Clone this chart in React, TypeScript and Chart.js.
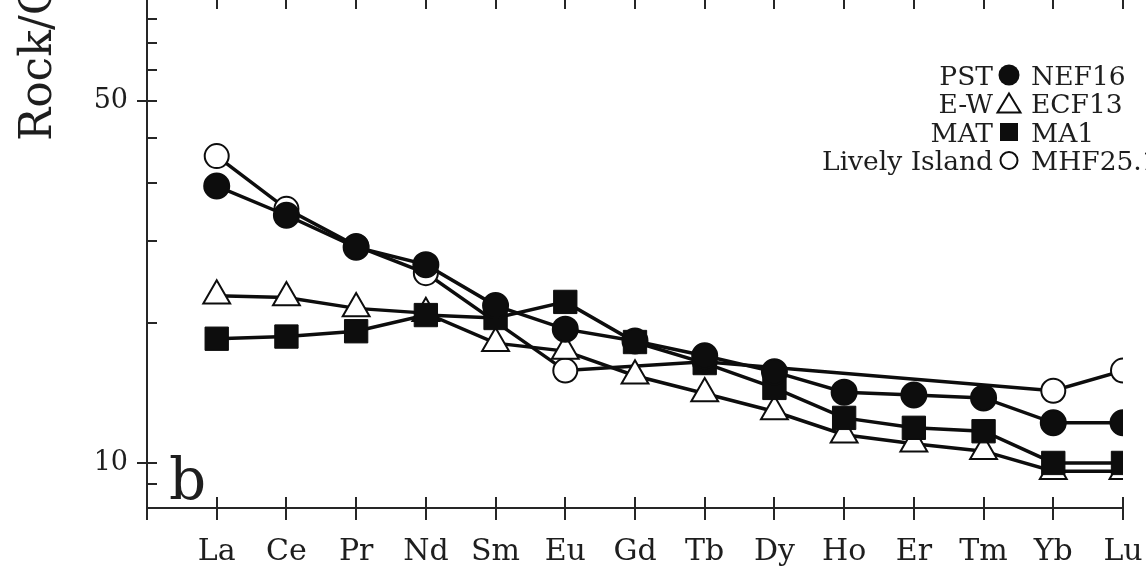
import React, { useEffect, useRef } from "react";
import { Chart, registerables } from "chart.js";

Chart.register(...registerables);

// Rare earth elements along the x axis
const elements = ["La", "Ce", "Pr", "Nd", "Sm", "Eu", "Gd", "Tb", "Dy", "Ho", "Er", "Tm", "Yb", "Lu"];

// Chondrite-normalised concentrations per sample
const nef16 = [39.4, 34.1, 29.1, 26.7, 21.8, 19.4, 18.3, 17.0, 15.7, 14.2, 14.0, 13.8, 12.2, 12.2];
const ecf13 = [22.9, 22.7, 21.5, 21.0, 18.1, 17.4, 15.4, 14.1, 12.9, 11.5, 11.0, 10.6, 9.6, 9.6];
const ma1 = [18.5, 18.7, 19.2, 20.8, 20.5, 22.2, 18.2, 16.4, 14.5, 12.5, 11.9, 11.7, 10.0, 10.0];
const mhf251: (number | null)[] = [45.7, 35.2, 29.3, 25.6, null, 15.8, null, 16.5, null, null, null, null, 14.3, 15.8];

// Legend rows: suite name and sample name
const groups = ["PST", "E-W", "MAT", "Lively Island"];
const samples = ["NEF16", "ECF13", "MA1", "MHF25.1"];

// Log axis range and tick marks
const yMin = 8;
const yMax = 100;
const yMinorTicks = [9, 20, 30, 40, 50, 70, 80, 90];
const yLabelTicks = [10, 60];
const yTickLabels = ["10", "50"];

const yTitle = "Rock/Chondrite";
const panelLetter = "b";

const SERIF = "'DejaVu Serif', 'Liberation Serif', serif";
const INK = "#0d0d0d";
const AXIS = "#262626";
const TEXT = "#1e1e1e";

const toPoints = (vals: (number | null)[]) => vals.map((v, i) => ({ x: i, y: v }));

type Shape = "disc" | "triangle" | "square" | "ring";
const legendShapes: Shape[] = ["disc", "triangle", "square", "ring"];

function drawLegendSymbol(ctx: CanvasRenderingContext2D, shape: Shape, cx: number, cy: number) {
  ctx.save();
  ctx.lineWidth = 2;
  ctx.strokeStyle = INK;
  ctx.fillStyle = INK;
  ctx.beginPath();
  if (shape === "disc") {
    ctx.arc(cx, cy, 10.5, 0, Math.PI * 2);
    ctx.fill();
  } else if (shape === "ring") {
    ctx.arc(cx, cy, 8.5, 0, Math.PI * 2);
    ctx.fillStyle = "#fff";
    ctx.fill();
    ctx.stroke();
  } else if (shape === "square") {
    ctx.rect(cx - 9, cy - 9, 18, 18);
    ctx.fill();
  } else {
    ctx.moveTo(cx, cy - 10);
    ctx.lineTo(cx + 11.5, cy + 9);
    ctx.lineTo(cx - 11.5, cy + 9);
    ctx.closePath();
    ctx.fillStyle = "#fff";
    ctx.fill();
    ctx.stroke();
  }
  ctx.restore();
}

const framePlugin = {
  id: "frame",
  beforeDatasetsDraw(chart: any) {
    const { ctx, chartArea } = chart;
    const { left, right, top, bottom } = chartArea;
    const xs = chart.scales.x;
    const ys = chart.scales.y;
    ctx.save();
    ctx.strokeStyle = AXIS;
    ctx.lineWidth = 2;
    ctx.beginPath();
    // spines
    ctx.moveTo(left, top);
    ctx.lineTo(left, bottom + 12);
    ctx.moveTo(left, bottom);
    ctx.lineTo(right, bottom);
    ctx.moveTo(left, top);
    ctx.lineTo(right, top);
    // element ticks, bottom and top
    elements.forEach((_, i) => {
      const px = Math.round(xs.getPixelForValue(i));
      ctx.moveTo(px, bottom - 11);
      ctx.lineTo(px, bottom + 12);
      ctx.moveTo(px, top);
      ctx.lineTo(px, top + 11);
    });
    // minor ticks inside, labelled ticks across the spine
    yMinorTicks.forEach((v) => {
      const py = Math.round(ys.getPixelForValue(v));
      ctx.moveTo(left, py);
      ctx.lineTo(left + 10, py);
    });
    yLabelTicks.forEach((v) => {
      const py = Math.round(ys.getPixelForValue(v));
      ctx.moveTo(left - 10, py);
      ctx.lineTo(left + 10, py);
    });
    ctx.stroke();
    ctx.restore();
  },
  afterDraw(chart: any) {
    const { ctx, chartArea } = chart;
    const { left, right, top, bottom } = chartArea;
    ctx.save();
    ctx.fillStyle = TEXT;

    // rotated axis title
    ctx.save();
    ctx.translate(left - 96, top + 143);
    ctx.rotate(-Math.PI / 2);
    ctx.font = `44px ${SERIF}`;
    ctx.textAlign = "left";
    ctx.textBaseline = "alphabetic";
    ctx.fillText(yTitle, 0, 0);
    ctx.restore();

    // panel letter
    ctx.font = `58px ${SERIF}`;
    ctx.textAlign = "left";
    ctx.textBaseline = "alphabetic";
    ctx.fillText(panelLetter, left + 22, bottom - 9);

    // legend
    const symX = right - 114;
    ctx.font = `26.5px ${SERIF}`;
    groups.forEach((g, i) => {
      const cy = top + 77 + i * 28.5;
      const base = cy + 9.5;
      ctx.textAlign = "right";
      ctx.fillText(g, symX - 16, base);
      ctx.textAlign = "left";
      ctx.fillText(samples[i], symX + 22, base);
      drawLegendSymbol(ctx, legendShapes[i], symX, cy);
    });
    ctx.restore();
  },
};

export default function App() {
  const canvasRef = useRef<HTMLCanvasElement | null>(null);

  useEffect(() => {
    const canvas = canvasRef.current;
    if (!canvas) return;
    const line = { borderColor: INK, borderWidth: 3.5, spanGaps: true, tension: 0 };
    const chart = new Chart(canvas, {
      type: "line",
      data: {
        datasets: [
          {
            ...line,
            label: samples[0],
            data: toPoints(nef16),
            pointStyle: "circle",
            pointRadius: 12.5,
            pointBorderWidth: 2,
            pointBackgroundColor: INK,
            pointBorderColor: INK,
            order: 0,
          },
          {
            ...line,
            label: samples[1],
            data: toPoints(ecf13),
            pointStyle: "triangle",
            pointRadius: 15.5,
            pointBorderWidth: 2,
            pointBackgroundColor: "#ffffff",
            pointBorderColor: INK,
            order: 2,
          },
          {
            ...line,
            label: samples[2],
            data: toPoints(ma1),
            pointStyle: "rect",
            pointRadius: 16.5,
            pointBorderWidth: 1,
            pointBackgroundColor: INK,
            pointBorderColor: INK,
            order: 1,
          },
          {
            ...line,
            label: samples[3],
            data: toPoints(mhf251),
            pointStyle: "circle",
            pointRadius: 12,
            pointBorderWidth: 2,
            pointBackgroundColor: "#ffffff",
            pointBorderColor: INK,
            order: 3,
          },
        ] as any,
      },
      options: {
        animation: false,
        responsive: false,
        maintainAspectRatio: false,
        devicePixelRatio: 1,
        layout: { padding: { top: 38, right: 177, left: 0, bottom: 0 } },
        plugins: { legend: { display: false }, tooltip: { enabled: false } },
        scales: {
          x: {
            type: "linear",
            min: -1,
            max: elements.length - 1,
            grid: { display: false, drawTicks: false },
            border: { display: false },
            afterBuildTicks: (s: any) => {
              s.ticks = elements.map((_, i) => ({ value: i }));
            },
            afterFit: (s: any) => {
              s.height = 73;
            },
            ticks: {
              autoSkip: false,
              maxRotation: 0,
              padding: 26,
              color: TEXT,
              font: { family: SERIF, size: 30 },
              callback: (v: any) => elements[v as number] ?? "",
            },
          },
          y: {
            type: "logarithmic",
            min: yMin,
            max: yMax,
            grid: { display: false, drawTicks: false },
            border: { display: false },
            afterBuildTicks: (s: any) => {
              s.ticks = yLabelTicks.map((v) => ({ value: v }));
            },
            afterFit: (s: any) => {
              s.width = 147;
            },
            ticks: {
              padding: 19,
              color: TEXT,
              font: { family: SERIF, size: 27 },
              callback: (v: any) => {
                const k = yLabelTicks.indexOf(Number(v));
                return k >= 0 ? yTickLabels[k] : "";
              },
            },
          },
        },
      } as any,
      plugins: [framePlugin],
    });
    return () => chart.destroy();
  }, []);

  return (
    <div
      style={{
        position: "fixed",
        left: 0,
        top: 0,
        width: 1146,
        height: 581,
        overflow: "hidden",
        background: "#ffffff",
      }}
    >
      <canvas
        ref={canvasRef}
        width={1300}
        height={621}
        style={{ position: "absolute", left: 0, top: -40, width: 1300, height: 621, display: "block" }}
      />
    </div>
  );
}
